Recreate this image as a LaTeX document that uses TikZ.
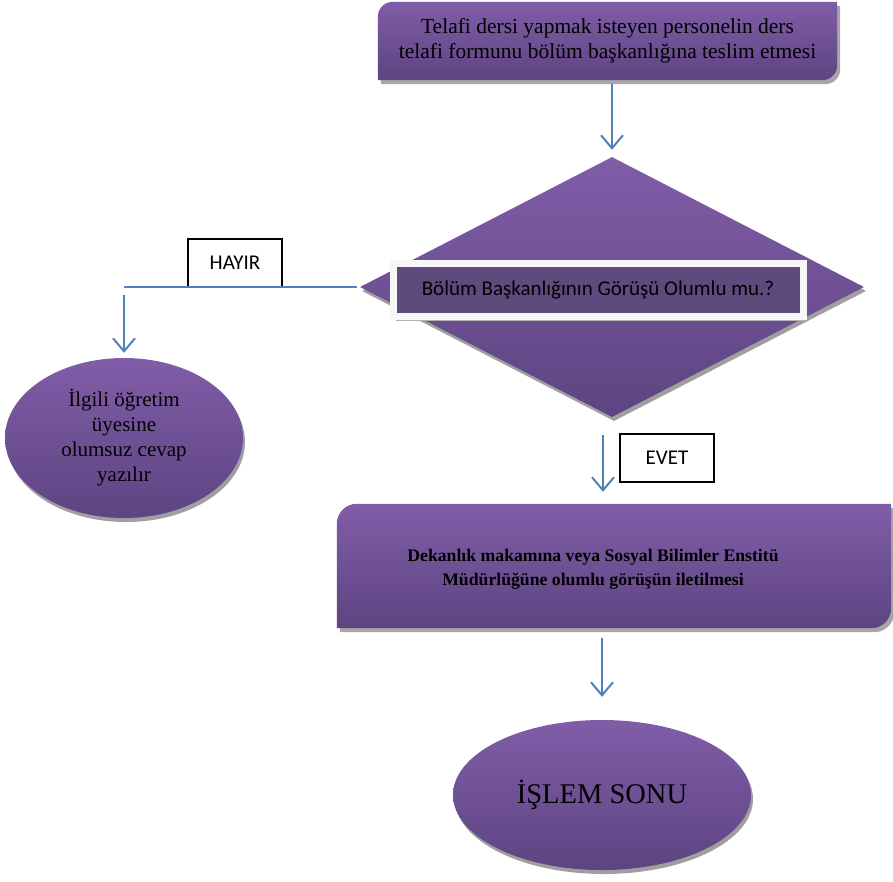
\documentclass[tikz,border=0pt]{standalone}
\usepackage{fontspec}
\setmainfont{Liberation Serif}
\setsansfont{Carlito}
\usetikzlibrary{arrows.meta, shapes.geometric, shadows}
\usetikzlibrary{positioning}
\definecolor{morust}{RGB}{128,93,168}
\definecolor{moralt}{RGB}{94,68,130}
\definecolor{moric}{RGB}{94,74,124}
\definecolor{okmavi}{RGB}{79,129,189}
\tikzstyle{ok} = [-{Straight Barb[length=13pt,width=22pt]},draw=okmavi,line width=2pt]
\tikzstyle{etiket} = [draw=black,line width=1.2pt,fill=white,font=\sffamily\fontsize{21}{24}\selectfont,minimum width=94pt,minimum height=48pt]
\tikzstyle{elips} = [ellipse,top color=morust,bottom color=moralt,align=center,inner sep=0pt,drop shadow={shadow xshift=2pt,shadow yshift=-4pt,fill=gray!75,opacity=1}]
\tikzstyle{golge} = [fill=gray!70]

\begin{document}
\begin{tikzpicture}[x=1pt,y=-1pt]
	\useasboundingbox (0,0) rectangle (893,881);

	% ust kutu
	\node[minimum width=459pt,minimum height=78pt] (F) at (607.5,41) {};
	% orta kutu
	\node[minimum width=554pt,minimum height=124pt] (M) at (614,566) {};

	\foreach \n/\r in {F/15pt,M/20pt} {
		\fill[golge] ([shift={(3,4)}]\n.south west) [rounded corners=\r] -- ([shift={(3,4)}]\n.north west) [sharp corners] -- ([shift={(3,4)}]\n.north east) [rounded corners=\r] -- ([shift={(3,4)}]\n.south east) [sharp corners] -- cycle;
		\shade[top color=morust,bottom color=moralt] (\n.south west) [rounded corners=\r] -- (\n.north west) [sharp corners] -- (\n.north east) [rounded corners=\r] -- (\n.south east) [sharp corners] -- cycle;
	}
	\node[align=center,font=\fontsize{21.5}{25}\selectfont] at (F) {Telafi dersi yapmak isteyen personelin ders\\telafi formunu bölüm başkanlığına teslim etmesi};
	\node[align=center,font=\bfseries\fontsize{17.7}{24}\selectfont] at ([shift={(-21,3)}]M.center) {Dekanlık makamına veya Sosyal Bilimler Enstitü\\Müdürlüğüne olumlu görüşün iletilmesi};

	% karar
	\node[diamond,minimum width=504pt,minimum height=260pt,inner sep=0pt,top color=morust,bottom color=moralt,drop shadow={shadow xshift=2pt,shadow yshift=-4pt,fill=gray!75,opacity=1}] (K) at (612,287) {};
	\node[fill=moric,draw=white!94!gray,line width=7pt,minimum width=410pt,minimum height=53pt,font=\sffamily\fontsize{21}{24}\selectfont,drop shadow={shadow xshift=3pt,shadow yshift=-4pt,fill=gray!60,opacity=1}] (S) at (598,290) {Bölüm Başkanlığının Görüşü Olumlu mu.?};

	\node[elips,minimum width=238pt,minimum height=160pt,font=\fontsize{21}{25}\selectfont] (L) at (124,438) {İlgili öğretim\\üyesine\\olumsuz cevap\\yazılır};
	\node[elips,minimum width=298pt,minimum height=150pt,font=\fontsize{28.5}{32}\selectfont] (E) at (602,795) {İŞLEM SONU};

	\node[etiket] (H) at (235,263) {HAYIR};
	\node[etiket] (V) at (667,458) {EVET};

	\coordinate (h1) at (124,287);
	\draw[draw=okmavi,line width=2pt,shorten <=3pt] (K.west) -- (h1);
	\draw[ok,shorten <=8pt,shorten >=5pt] (h1) -- (L.north);
	\draw[ok,shorten <=4pt,shorten >=7pt] (K.north |- F.south) -- (K.north);
	\draw[ok,shorten <=18pt,shorten >=12pt] ([xshift=-9pt]K.south) -- ([xshift=-9pt]K.south |- M.north);
	\draw[ok,shorten <=10pt,shorten >=23pt] (E.north |- M.south) -- (E.north);
\end{tikzpicture}
\end{document}
